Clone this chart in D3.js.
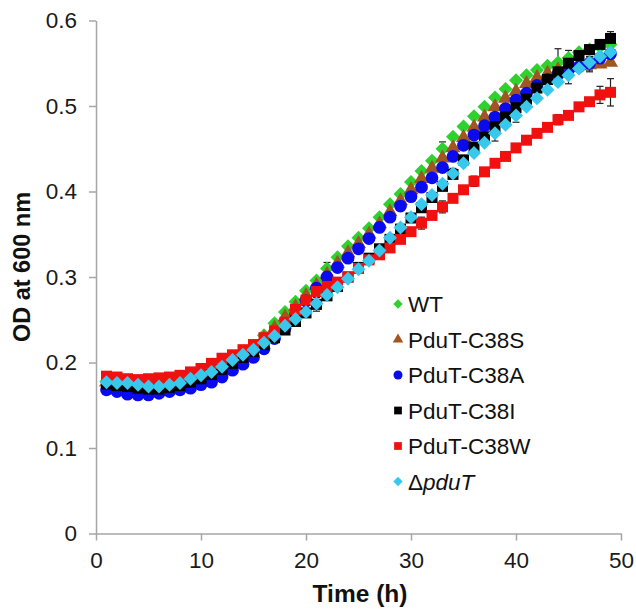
<!DOCTYPE html>
<html>
<head>
<meta charset="utf-8">
<script src="https://cdn.jsdelivr.net/npm/d3@7.9.0/dist/d3.min.js"></script>
<style>
  body { margin: 0; background: #fff; }
  svg text { font-family: "Liberation Sans", Arial, sans-serif; }
</style>
</head>
<body>
<svg id="chart" width="636" height="612"></svg>
<script>
// time points (h)
const hours = d3.range(1, 50);

// OD600 readings per strain, one value per hour
const wt = [0.178, 0.177, 0.176, 0.174, 0.173, 0.173, 0.174, 0.177, 0.181, 0.185,
  0.190, 0.196, 0.203, 0.210, 0.219, 0.232, 0.246, 0.259, 0.271, 0.284,
  0.296, 0.310, 0.323, 0.336, 0.346, 0.357, 0.370, 0.385, 0.397, 0.411,
  0.424, 0.436, 0.450, 0.464, 0.476, 0.488, 0.499, 0.510, 0.520, 0.530,
  0.536, 0.542, 0.547, 0.551, 0.556, 0.563, 0.566, 0.569, 0.572];
const c38s = [0.177, 0.176, 0.175, 0.173, 0.172, 0.172, 0.173, 0.176, 0.180, 0.184,
  0.189, 0.195, 0.202, 0.209, 0.217, 0.228, 0.240, 0.253, 0.265, 0.278,
  0.290, 0.303, 0.316, 0.328, 0.339, 0.350, 0.362, 0.376, 0.389, 0.402,
  0.415, 0.427, 0.439, 0.451, 0.463, 0.475, 0.487, 0.499, 0.509, 0.517,
  0.526, 0.533, 0.538, 0.542, 0.545, 0.547, 0.548, 0.549, 0.551];
const c38a = [0.168, 0.166, 0.163, 0.162, 0.162, 0.164, 0.166, 0.168, 0.170, 0.174,
  0.177, 0.183, 0.191, 0.198, 0.206, 0.216, 0.228, 0.240, 0.256, 0.272,
  0.287, 0.300, 0.311, 0.322, 0.333, 0.345, 0.358, 0.370, 0.383, 0.394,
  0.405, 0.416, 0.428, 0.441, 0.454, 0.466, 0.477, 0.487, 0.497, 0.507,
  0.515, 0.524, 0.531, 0.537, 0.542, 0.546, 0.550, 0.556, 0.561];
const c38i = [0.175, 0.173, 0.172, 0.170, 0.169, 0.169, 0.171, 0.173, 0.177, 0.181,
  0.186, 0.192, 0.199, 0.206, 0.213, 0.221, 0.229, 0.238, 0.248, 0.258,
  0.268, 0.278, 0.289, 0.300, 0.311, 0.322, 0.333, 0.344, 0.356, 0.369,
  0.381, 0.393, 0.406, 0.420, 0.437, 0.452, 0.464, 0.476, 0.487, 0.498,
  0.508, 0.521, 0.531, 0.540, 0.550, 0.559, 0.566, 0.572, 0.579];
const c38w = [0.184, 0.183, 0.181, 0.180, 0.181, 0.182, 0.183, 0.185, 0.189, 0.193,
  0.199, 0.205, 0.209, 0.215, 0.221, 0.229, 0.237, 0.247, 0.262, 0.273,
  0.283, 0.289, 0.294, 0.300, 0.310, 0.320, 0.326, 0.334, 0.344, 0.353,
  0.363, 0.372, 0.382, 0.392, 0.402, 0.412, 0.423, 0.433, 0.441, 0.451,
  0.460, 0.468, 0.475, 0.484, 0.489, 0.499, 0.505, 0.513, 0.516];
const dpduT = [0.177, 0.176, 0.176, 0.174, 0.172, 0.172, 0.174, 0.176, 0.181, 0.185,
  0.189, 0.195, 0.203, 0.209, 0.215, 0.223, 0.231, 0.243, 0.251, 0.259,
  0.269, 0.279, 0.288, 0.298, 0.309, 0.319, 0.331, 0.346, 0.358, 0.370,
  0.385, 0.396, 0.409, 0.421, 0.433, 0.445, 0.457, 0.468, 0.478, 0.489,
  0.499, 0.509, 0.519, 0.528, 0.536, 0.544, 0.551, 0.558, 0.563];

// the error bars that can be seen: [series index, hour, +/- OD]
const errorBars = [
  [0, 22, 0.007], [0, 33, 0.008], [0, 44, 0.016], [0, 45, 0.009],
  [1, 47, 0.008], [2, 47, 0.008],
  [3, 21, 0.008], [3, 25, 0.006], [3, 49, 0.008],
  [4, 31, 0.007], [4, 33, 0.007], [4, 36, 0.006], [4, 40, 0.005],
  [4, 44, 0.006], [4, 48, 0.010], [4, 49, 0.016],
  [5, 34, 0.006], [5, 38, 0.009], [5, 40, 0.008], [5, 45, 0.010]
];

const seriesNames = ["WT", "PduT-C38S", "PduT-C38A", "PduT-C38I", "PduT-C38W", "ΔpduT"];
const seriesValues = [wt, c38s, c38a, c38i, c38w, dpduT];
const seriesColors = ["#2fd12f", "#a0561e", "#0a0aee", "#000000", "#f01010", "#38c8ec"];
const seriesShapes = ["diamond", "triangle", "circle", "square", "square", "diamond"];

const xTicks = [0, 10, 20, 30, 40, 50];
const yTicks = [0, 0.1, 0.2, 0.3, 0.4, 0.5, 0.6];

const svg = d3.select("#chart");
const x = d3.scaleLinear().domain([0, 50]).range([96, 621]);
const y = d3.scaleLinear().domain([0, 0.6]).range([533.5, 20.5]);

function symbolPath(shape, big) {
    let type = d3.symbolSquare, size;
    if (shape === "circle") { type = d3.symbolCircle; size = big ? 128 : 64; }
    else if (shape === "triangle") { type = d3.symbolTriangle; size = big ? 98 : 48; }
    else if (shape === "diamond") { size = big ? 98 : 44; }
    else { size = big ? 121 : 60; }
    return d3.symbol().type(type).size(size)();
}

// axes
const axisColor = "#a6a6a6";
const yAxis = svg.append("g")
    .attr("transform", `translate(${x(0)},0)`)
    .call(d3.axisLeft(y).tickValues(yTicks).tickSize(7).tickSizeOuter(0).tickPadding(12)
        .tickFormat(d => d === 0 ? "0" : d3.format(".1f")(d)));
const xAxis = svg.append("g")
    .attr("transform", `translate(0,${y(0)})`)
    .call(d3.axisBottom(x).tickValues(xTicks).tickSize(7).tickSizeOuter(0).tickPadding(12));

[yAxis, xAxis].forEach(g => {
    g.select(".domain").attr("stroke", axisColor).attr("stroke-width", 1.5);
    g.selectAll(".tick line").attr("stroke", axisColor).attr("stroke-width", 1.5);
    g.selectAll(".tick text").attr("fill", "#1a1a1a")
        .style("font-size", "22.5px").style("font-family", "Liberation Sans, Arial, sans-serif");
});

svg.append("text")
    .attr("transform", `translate(30,267) rotate(-90)`)
    .attr("text-anchor", "middle")
    .attr("font-size", "23.5px")
    .attr("font-weight", "bold")
    .attr("fill", "#111")
    .text("OD at 600 nm");

svg.append("text")
    .attr("x", 360)
    .attr("y", 602)
    .attr("text-anchor", "middle")
    .attr("font-size", "24.5px")
    .attr("font-weight", "bold")
    .attr("fill", "#111")
    .text("Time (h)");

// error bars
const eb = svg.append("g").attr("stroke", "#222").attr("stroke-width", 1.2);
errorBars.forEach(([s, t, e]) => {
    const v = seriesValues[s][t - 1];
    const cx = x(t);
    eb.append("line").attr("x1", cx).attr("x2", cx).attr("y1", y(v - e)).attr("y2", y(v + e));
    eb.append("line").attr("x1", cx - 3.5).attr("x2", cx + 3.5).attr("y1", y(v - e)).attr("y2", y(v - e));
    eb.append("line").attr("x1", cx - 3.5).attr("x2", cx + 3.5).attr("y1", y(v + e)).attr("y2", y(v + e));
});

// markers, drawn in legend order so later series sit on top
seriesValues.forEach((vals, s) => {
    svg.append("g")
        .selectAll("path")
        .data(vals.map((v, i) => ({ t: hours[i], v: v })))
        .enter()
        .append("path")
        .attr("d", symbolPath(seriesShapes[s], true))
        .attr("fill", seriesColors[s])
        .attr("transform", d => `translate(${x(d.t)},${y(d.v)})` + (seriesShapes[s] === "diamond" ? " rotate(45)" : ""));
});

// legend
const legend = svg.append("g");
seriesNames.forEach((name, s) => {
    const ly = 304 + s * 35.5;
    legend.append("path")
        .attr("d", symbolPath(seriesShapes[s], false))
        .attr("fill", seriesColors[s])
        .attr("transform", `translate(398,${ly})` + (seriesShapes[s] === "diamond" ? " rotate(45)" : ""));
    const txt = legend.append("text")
        .attr("x", 408)
        .attr("y", ly + 8)
        .attr("font-size", "22.5px")
        .attr("fill", "#111");
    if (name === "ΔpduT") {
        txt.append("tspan").text("Δ");
        txt.append("tspan").attr("font-style", "italic").text("pduT");
    } else {
        txt.text(name);
    }
});
</script>
</body>
</html>
